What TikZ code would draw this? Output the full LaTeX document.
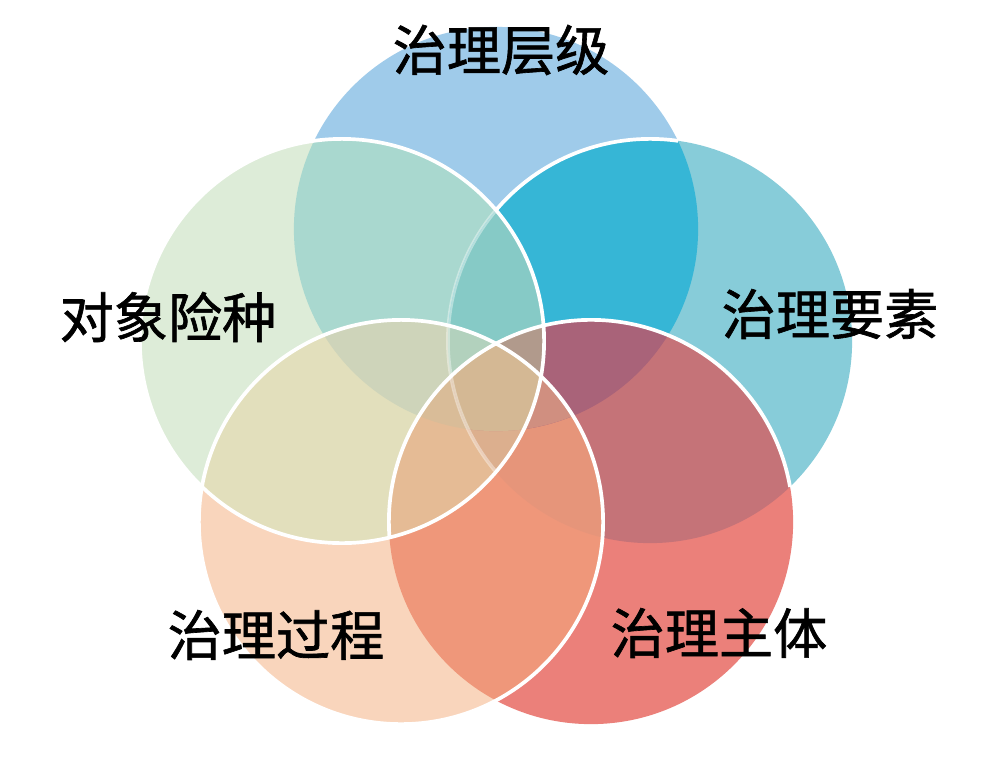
\documentclass[tikz,border=0pt]{standalone}
\usepackage{fontspec}
\setmainfont{Noto Sans CJK SC}
\newfontfamily\labfont{Noto Sans CJK SC}[BoldFont={Noto Sans CJK SC},BoldFeatures={FakeBold=1.2}]
\definecolor{cB}{HTML}{9FCBEA}
\definecolor{cT}{HTML}{87CCD9}
\definecolor{cG}{HTML}{DDECD8}
\definecolor{cP}{HTML}{F9D5BC}
\definecolor{cR}{HTML}{EB807A}
\definecolor{cBG}{HTML}{A9D8CF}
\definecolor{cBT}{HTML}{36B6D6}
\definecolor{cTR}{HTML}{C57378}
\definecolor{cRP}{HTML}{EF977A}
\definecolor{cPG}{HTML}{E2DFBC}
\definecolor{cTBG}{HTML}{86CAC6}
\definecolor{cBGP}{HTML}{CED4BA}
\definecolor{cGPR}{HTML}{E5BB95}
\definecolor{cPRT}{HTML}{E6957A}
\definecolor{cRTB}{HTML}{A96379}
\definecolor{nR}{HTML}{B2D1BD}
\definecolor{nP}{HTML}{B19A8C}
\definecolor{nT}{HTML}{D9BC98}
\definecolor{nB}{HTML}{DCAF8E}
\definecolor{nG}{HTML}{D08F80}
\definecolor{cAll}{HTML}{D4B894}
\newcommand\rr{2.02cm}
\newcommand\cc[1]{(#1) circle[radius=\rr]}
\begin{document}
\begin{tikzpicture}[x=0.01cm,y=-0.01cm,
  lab/.style={inner sep=0pt,font=\labfont\bfseries\fontsize{15.4pt}{16pt}\selectfont,text=black},
  outl/.style={draw=white,line width=1.05pt},
  faint/.style={draw=white,draw opacity=0.4,line width=1.05pt}]
\useasboundingbox (0,0) rectangle (1000,775);
\fill[white] (0,0) rectangle (1000,775);
\coordinate (B) at (496,229);
\coordinate (G) at (342,341);
\coordinate (T) at (650,341);
\coordinate (P) at (401,522);
\coordinate (R) at (591,522);
% single circles
\fill[cB] \cc{B};
\fill[cT] \cc{T};
\fill[cR] \cc{R};
\fill[cP] \cc{P};
\fill[cG] \cc{G};
% adjacent pairs
\begin{scope}\clip \cc{B}; \fill[cBG] \cc{G};\end{scope}
\begin{scope}\clip \cc{B}; \fill[cBT] \cc{T};\end{scope}
\begin{scope}\clip \cc{T}; \fill[cTR] \cc{R};\end{scope}
\begin{scope}\clip \cc{R}; \fill[cRP] \cc{P};\end{scope}
\begin{scope}\clip \cc{P}; \fill[cPG] \cc{G};\end{scope}
% consecutive triples
\begin{scope}\clip \cc{T}; \clip \cc{B}; \fill[cTBG] \cc{G};\end{scope}
\begin{scope}\clip \cc{B}; \clip \cc{G}; \fill[cBGP] \cc{P};\end{scope}
\begin{scope}\clip \cc{G}; \clip \cc{P}; \fill[cGPR] \cc{R};\end{scope}
\begin{scope}\clip \cc{P}; \clip \cc{R}; \fill[cPRT] \cc{T};\end{scope}
\begin{scope}\clip \cc{R}; \clip \cc{T}; \fill[cRTB] \cc{B};\end{scope}
% four-sets (named by the missing circle)
\begin{scope}\clip \cc{B}; \clip \cc{G}; \clip \cc{T}; \fill[nR] \cc{P};\end{scope}
\begin{scope}\clip \cc{B}; \clip \cc{G}; \clip \cc{T}; \fill[nP] \cc{R};\end{scope}
\begin{scope}\clip \cc{B}; \clip \cc{G}; \clip \cc{P}; \fill[nT] \cc{R};\end{scope}
\begin{scope}\clip \cc{G}; \clip \cc{T}; \clip \cc{P}; \fill[nB] \cc{R};\end{scope}
\begin{scope}\clip \cc{B}; \clip \cc{T}; \clip \cc{P}; \fill[nG] \cc{R};\end{scope}
% all five
\begin{scope}\clip \cc{B}; \clip \cc{G}; \clip \cc{T}; \clip \cc{P}; \fill[cAll] \cc{R};\end{scope}
% white outlines
\draw[outl] ([shift={(82:\rr)}]T) arc[start angle=82,end angle=139.7,radius=\rr];
\draw[faint] ([shift={(139.7:\rr)}]T) arc[start angle=139.7,end angle=220.3,radius=\rr];
\draw[outl] ([shift={(10:\rr)}]R) arc[start angle=10,end angle=184,radius=\rr];
\draw[outl] \cc{P};
\draw[outl] \cc{G};
% labels
\node[lab] (l1) at (501,50) {治理层级};
\node[lab] (l2) at (168,317) {对象险种};
\node[lab] (l3) at (830,314) {治理要素};
\node[lab] (l4) at (276,635) {治理过程};
\node[lab] (l5) at (719,633) {治理主体};
\end{tikzpicture}
\end{document}
